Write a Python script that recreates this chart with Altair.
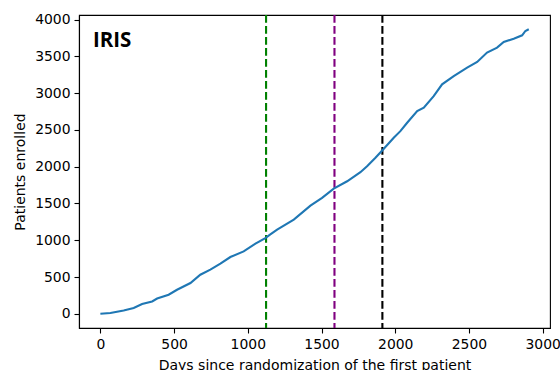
import altair as alt
import pandas as pd

days = [0, 68, 158, 226, 283, 351, 385, 463, 520, 611, 678, 746, 814, 882, 972,
        1052, 1119, 1153, 1199, 1312, 1425, 1504, 1583, 1674, 1764, 1809, 1866,
        1918, 1990, 2035, 2081, 2149, 2194, 2261, 2318, 2397, 2488, 2556, 2623,
        2691, 2736, 2804, 2861, 2883, 2906]
patients = [0, 10, 45, 78, 132, 168, 208, 259, 327, 418, 531, 600, 681, 772, 849,
            954, 1030, 1080, 1144, 1281, 1471, 1576, 1703, 1802, 1925, 2007, 2121,
            2234, 2394, 2484, 2598, 2756, 2802, 2960, 3120, 3233, 3347, 3424, 3552,
            3620, 3696, 3742, 3787, 3846, 3869]

vline_days = [1124, 1588, 1913]
vline_colors = ["green", "purple", "black"]

x_ticks = [0, 500, 1000, 1500, 2000, 2500, 3000]
y_ticks = [0, 500, 1000, 1500, 2000, 2500, 3000, 3500, 4000]

df = pd.DataFrame({"day": days, "n": patients})
vdf = pd.DataFrame({"day": vline_days, "c": vline_colors})

xs = alt.Scale(domain=[-145, 3050], nice=False, zero=False)
ys = alt.Scale(domain=[-193.5, 4063.5], nice=False, zero=False)

line = alt.Chart(df).mark_line(color="#1f77b4", strokeWidth=2.1).encode(
    x=alt.X("day:Q", scale=xs,
            axis=alt.Axis(values=x_ticks, format="d", titlePadding=8,
                          title="Days since randomization of the first patient")),
    y=alt.Y("n:Q", scale=ys,
            axis=alt.Axis(values=y_ticks, format="d", titlePadding=7,
                          title="Patients enrolled")),
)

rules = alt.Chart(vdf).mark_rule(strokeWidth=2.1, strokeDash=[7.7, 3.3]).encode(
    x=alt.X("day:Q", scale=xs),
    color=alt.Color("c:N", scale=None),
)

label = alt.Chart(pd.DataFrame({"t": ["IRIS"]})).mark_text(
    font="Open Sans", fontWeight="bold", fontSize=20.5, align="left",
    baseline="alphabetic", color="black"
).encode(x=alt.value(14), y=alt.value(32), text="t:N")

chart = alt.layer(rules, line, label).properties(
    width=471, height=313,
    background="white",
    autosize=alt.AutoSizeParams(type="none"),
    padding={"left": 79, "top": 15, "right": 10, "bottom": 42},
).configure_view(
    stroke="black", strokeWidth=1.1
).configure_axis(
    grid=False,
    domainColor="black", domainWidth=1.1,
    tickColor="black", tickWidth=1.1, tickSize=5,
    labelFont="DejaVu Sans", labelFontSize=13.9, labelColor="black", labelPadding=4,
    titleFont="DejaVu Sans", titleFontSize=14, titleFontWeight="normal",
    titleColor="black",
    labelFlush=False, labelOverlap=False,
)

chart.save("out.html", embed_options={"renderer": "svg", "actions": False})
